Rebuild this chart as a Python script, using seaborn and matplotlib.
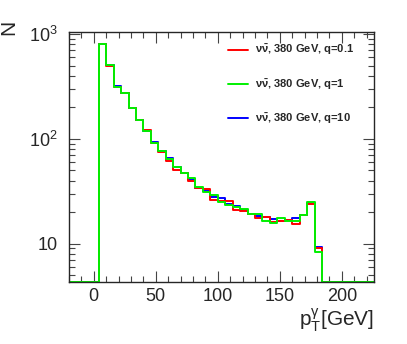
import numpy as np
import matplotlib
matplotlib.use('Agg')
import matplotlib.pyplot as plt
import matplotlib.ticker as mticker
import seaborn as sns

# photon pT histogram: 30 bins of 6 GeV starting at 4 GeV
bin_start = 4
bin_width = 6
n_bins = 30

# bin contents
q01 = [809, 492, 315, 272, 197, 152, 122, 92, 75, 62,
       51, 47, 40, 34, 33.6, 26.1, 25.7, 25.5, 21.1, 20.3,
       19.4, 17.7, 18.1, 16.1, 16.6, 16.8, 15.4, 18.8, 23.7, 9.1]
q1 = [809, 503, 315, 276, 199, 152, 119, 92, 76, 65,
      54, 47, 42, 35, 31, 29, 24.8, 23.4, 22.6, 21.4,
      19.4, 19.2, 16.6, 15.6, 17.4, 16.6, 16.6, 18.8, 25.1, 8.4]
q10 = [809, 503, 321, 276, 199, 152, 119, 94, 76, 66,
       54, 47, 41.5, 34, 32, 27.8, 27.6, 23.8, 23.0, 21.1,
       19.4, 18.2, 18.1, 17.2, 16.6, 17.0, 17.4, 18.8, 24.2, 9.3]

labels = [r'$\mathregular{\nu\bar{\nu}}$, 380 GeV, q=0.1',
          r'$\mathregular{\nu\bar{\nu}}$, 380 GeV, q=1',
          r'$\mathregular{\nu\bar{\nu}}$, 380 GeV, q=10']
colors = ['#ff0000', '#00f000', '#0000ff']

xmin, xmax = -20, 226
ymin, ymax = 4.3, 1050

sns.set_style('ticks')
plt.rcParams['font.family'] = ['Liberation Sans', 'DejaVu Sans']
plt.rcParams['mathtext.fontset'] = 'custom'
plt.rcParams['mathtext.rm'] = 'Liberation Sans'
plt.rcParams['mathtext.it'] = 'Liberation Sans:italic'
plt.rcParams['mathtext.bf'] = 'Liberation Sans:bold'

fig = plt.figure(figsize=(4.07, 3.44), dpi=100)
ax = fig.add_axes([0.1695, 0.180, 0.7495, 0.727])

edges = bin_start + bin_width * np.arange(n_bins + 1)
x = np.concatenate([[xmin], edges, [xmax]])


def step_y(vals):
    # empty bins outside the range sit on the axis floor (log scale)
    return np.concatenate([[ymin], vals, [ymin, ymin]])


handles = {}
# draw blue and red first so green ends up on top, like the original
for vals, lab, col in [(q10, labels[2], colors[2]),
                       (q01, labels[0], colors[0]),
                       (q1, labels[1], colors[1])]:
    sns.lineplot(x=x, y=step_y(vals), drawstyle='steps-post', estimator=None,
                 sort=False, color=col, lw=1.4, ax=ax, label=lab)
    handles[lab] = ax.get_lines()[-1]

ax.set_yscale('log')
ax.set_xlim(xmin, xmax)
ax.set_ylim(ymin, ymax)

ax.xaxis.set_major_locator(mticker.MultipleLocator(50))
ax.xaxis.set_minor_locator(mticker.MultipleLocator(10))
ax.yaxis.set_major_locator(mticker.FixedLocator([10, 100, 1000]))
ax.yaxis.set_minor_locator(mticker.LogLocator(base=10, subs=np.arange(2, 10)))
ax.yaxis.set_minor_formatter(mticker.NullFormatter())
ax.yaxis.set_major_formatter(mticker.FixedFormatter(['10', r'$10^{2}$', r'$10^{3}$']))

ax.tick_params(which='both', direction='in', top=True, right=True,
               width=0.8, color='#444444', labelsize=13)
ax.tick_params(which='major', length=8, pad=4)
ax.tick_params(axis='y', which='major', pad=8)
ax.tick_params(which='minor', length=4)
for s in ax.spines.values():
    s.set_linewidth(1.0)

ax.set_xlabel(r'$\mathregular{p_{T}^{\gamma}}$[GeV]', fontsize=15, loc='right')
ax.xaxis.set_label_coords(1.0, -0.098)
ax.set_ylabel('N', fontsize=15, loc='top')
ax.yaxis.set_label_coords(-0.167, 1.048)

ax.legend(handles=[handles[l] for l in labels], labels=labels,
          loc='upper left', bbox_to_anchor=(0.521, 0.956),
          bbox_transform=ax.transAxes, frameon=False,
          prop={'size': 8, 'weight': 'bold'}, borderpad=0, borderaxespad=0,
          handlelength=1.8, handletextpad=0.65, labelspacing=1.8)

plt.savefig('out.png', dpi=100)
plt.close()
